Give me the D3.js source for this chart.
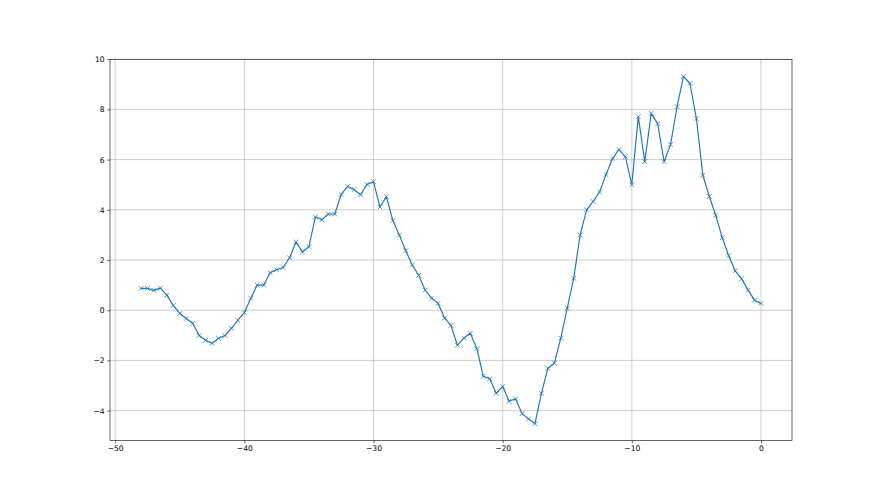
<!DOCTYPE html>
<html>
<head>
<meta charset="utf-8">
<script src="https://cdn.jsdelivr.net/npm/d3@7"></script>
<style>
	body { margin: 0; background: #fff; }
	svg { display: block; }
	.tick text { font-family: "DejaVu Sans", sans-serif; font-size: 7.6px; fill: #000; }
	.grid line { stroke: #b0b0b0; stroke-width: 0.6; }
</style>
</head>
<body>
<svg width="880" height="495"></svg>
<script>
var xValues = [
	-48, -47.5, -47, -46.5, -46, -45.5, -45, -44.5, -44, -43.5,
	-43, -42.5, -42, -41.5, -41, -40.5, -40, -39.5, -39, -38.5,
	-38, -37.5, -37, -36.5, -36, -35.5, -35, -34.5, -34, -33.5,
	-33, -32.5, -32, -31.5, -31, -30.5, -30, -29.5, -29, -28.5,
	-28, -27.5, -27, -26.5, -26, -25.5, -25, -24.5, -24, -23.5,
	-23, -22.5, -22, -21.5, -21, -20.5, -20, -19.5, -19, -18.5,
	-18, -17.5, -17, -16.5, -16, -15.5, -15, -14.5, -14, -13.5,
	-13, -12.5, -12, -11.5, -11, -10.5, -10, -9.5, -9, -8.5,
	-8, -7.5, -7, -6.5, -6, -5.5, -5, -4.5, -4, -3.5,
	-3, -2.5, -2, -1.5, -1, -0.5, 0
];
var yValues = [
	0.87, 0.87, 0.79, 0.88, 0.6, 0.19, -0.13, -0.33, -0.52, -1.01,
	-1.2, -1.32, -1.12, -1.01, -0.72, -0.4, -0.1, 0.48, 1.0, 1.0,
	1.49, 1.61, 1.7, 2.09, 2.72, 2.32, 2.53, 3.71, 3.6, 3.83,
	3.83, 4.61, 4.93, 4.81, 4.6, 5.01, 5.12, 4.11, 4.52, 3.57,
	2.99, 2.37, 1.8, 1.39, 0.8, 0.48, 0.27, -0.31, -0.61, -1.4,
	-1.11, -0.92, -1.53, -2.63, -2.73, -3.31, -3.04, -3.63, -3.53, -4.12,
	-4.33, -4.52, -3.31, -2.31, -2.11, -1.11, 0.07, 1.27, 3.0, 4.0,
	4.33, 4.71, 5.4, 6.03, 6.4, 6.11, 5.0, 7.71, 5.92, 7.84,
	7.43, 5.92, 6.6, 8.11, 9.31, 9.03, 7.63, 5.37, 4.53, 3.77,
	2.89, 2.17, 1.57, 1.25, 0.8, 0.4, 0.27
];
var xTicks = [-50, -40, -30, -20, -10, 0];
var yTicks = [-4, -2, 0, 2, 4, 6, 8, 10];

var data = xValues.map(function (x, i) { return { x: x, y: yValues[i] }; });

var plotLeft = 110, plotRight = 792, plotTop = 59.4, plotBottom = 440.5;

var svg = d3.select('svg');

var xScale = d3.scaleLinear().domain([-50.4, 2.4]).range([plotLeft, plotRight]);
var yScale = d3.scaleLinear().domain([-5.19, 9.99]).range([plotBottom, plotTop]);

// grid
var grid = svg.append('g').attr('class', 'grid');
grid.selectAll('line.vx')
	.data(xTicks)
	.enter().append('line')
	.attr('x1', function (d) { return xScale(d); })
	.attr('x2', function (d) { return xScale(d); })
	.attr('y1', plotTop)
	.attr('y2', plotBottom);
grid.selectAll('line.hy')
	.data(yTicks)
	.enter().append('line')
	.attr('x1', plotLeft)
	.attr('x2', plotRight)
	.attr('y1', function (d) { return yScale(d); })
	.attr('y2', function (d) { return yScale(d); });

// line
var line = d3.line()
	.x(function (d) { return xScale(d.x); })
	.y(function (d) { return yScale(d.y); });

svg.append('path')
	.datum(data)
	.attr('fill', 'none')
	.attr('stroke', '#1f77b4')
	.attr('stroke-width', 1.15)
	.attr('stroke-linejoin', 'round')
	.attr('d', line);

// markers
var m = 2.3;
svg.append('g').selectAll('path')
	.data(data)
	.enter().append('path')
	.attr('fill', 'none')
	.attr('stroke', '#1f77b4')
	.attr('stroke-width', 0.76)
	.attr('d', function (d) {
		var cx = xScale(d.x), cy = yScale(d.y);
		return 'M' + (cx - m) + ',' + (cy - m) + 'L' + (cx + m) + ',' + (cy + m) +
			'M' + (cx - m) + ',' + (cy + m) + 'L' + (cx + m) + ',' + (cy - m);
	});

// axes
var xAxis = d3.axisBottom(xScale).tickValues(xTicks).tickSize(2.7).tickPadding(2.7).tickFormat(d3.format('d'));
var yAxis = d3.axisLeft(yScale).tickValues(yTicks).tickSize(2.7).tickPadding(2.7).tickFormat(d3.format('d'));

var gx = svg.append('g').attr('transform', 'translate(0,' + plotBottom + ')').call(xAxis);
var gy = svg.append('g').attr('transform', 'translate(' + plotLeft + ',0)').call(yAxis);
[gx, gy].forEach(function (g) {
	g.select('.domain').remove();
	g.selectAll('.tick line').attr('stroke', '#000').attr('stroke-width', 0.6);
});

// frame
svg.append('rect')
	.attr('x', plotLeft)
	.attr('y', plotTop)
	.attr('width', plotRight - plotLeft)
	.attr('height', plotBottom - plotTop)
	.attr('fill', 'none')
	.attr('stroke', '#000')
	.attr('stroke-width', 0.6);
</script>
</body>
</html>
